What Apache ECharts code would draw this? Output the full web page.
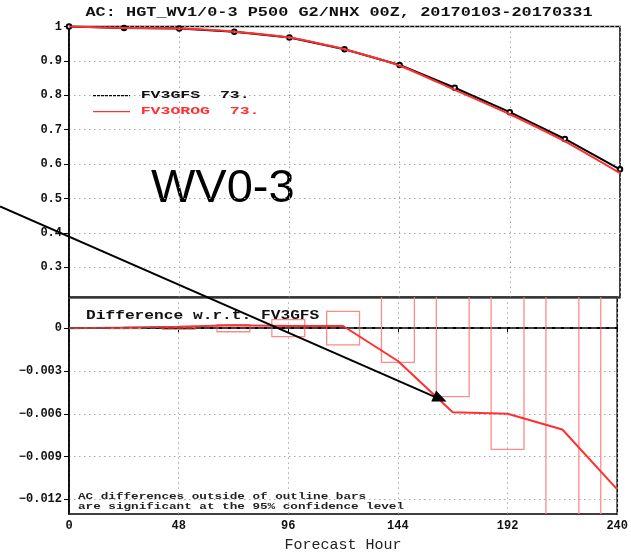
<!DOCTYPE html>
<html><head><meta charset="utf-8">
<script src="https://cdn.jsdelivr.net/npm/echarts@6/dist/echarts.min.js"></script>
<style>html,body{margin:0;padding:0;background:#fff}#c{width:631px;height:554px}</style>
</head><body><div id="c"></div><script>
// ---- data ----
const hours = [0, 24, 48, 72, 96, 120, 144, 168, 192, 216, 240];
const fv3gfs = [1.000, 0.996, 0.994, 0.985, 0.968, 0.934, 0.888, 0.822, 0.751, 0.673, 0.585];
const fv3orog = [1.000, 0.996, 0.994, 0.985, 0.968, 0.934, 0.886, 0.816, 0.745, 0.666, 0.574];
const diff = [0, 0.00004, 0.0001, 0.0002, 0.00015, 0.00015, -0.0023, -0.0059, -0.0060, -0.0071, -0.0113];
const sigHalf = [0, 0.00003, 0.00008, 0.00025, 0.0006, 0.00117, 0.0024, 0.0048, 0.0085, 0.016, 0.022];
const hourTicks = [0, 48, 96, 144, 192, 240];
const acTicks = [0.3, 0.4, 0.5, 0.6, 0.7, 0.8, 0.9, 1];
const diffTicks = [0, -0.003, -0.006, -0.009, -0.012];
const title = 'AC: HGT_WV1/0-3 P500 G2/NHX 00Z, 20170103-20170331';
const legendNames = ['FV3GFS', 'FV3OROG'];
const legendScores = ['73.', '73.'];

// ---- styles ----
const BAR_HALF_HOURS = 7.2;
const RED = '#ff3030';
const BAR_RED = '#ff8a8a';
const GRID_DOT = { color: '#a8a8a8', type: [1.5, 3.5], width: 1 };
const MONO = '"Liberation Mono", "DejaVu Sans Mono", monospace';

const chart = echarts.init(document.getElementById('c'), null, { renderer: 'canvas' });

const fmtDiff = v => v === 0 ? '0' : '\u2212' + Math.abs(v).toFixed(3);
const fmtAc = v => v === 1 ? '1' : v.toFixed(1);

const axisLabelStyle = { color: '#111', fontFamily: MONO, fontWeight: 'bold', fontSize: 12 };

chart.setOption({
  animation: false,
  backgroundColor: '#fff',
  grid: [
    { left: 69, right: 11, top: 26.5, height: 270.8, show: true, borderColor: '#000', borderWidth: 1.5, backgroundColor: 'transparent' },
    { left: 69, right: 11, top: 297.3, height: 217.7, show: true, borderColor: '#000', borderWidth: 1.5, backgroundColor: 'transparent' }
  ],
  xAxis: [
    { gridIndex: 0, type: 'value', min: 0, max: 240, interval: 48,
      axisLine: { show: true, lineStyle: { color: '#444', width: 1.5 } }, axisTick: { show: false }, axisLabel: { show: false },
      splitLine: { show: true, lineStyle: GRID_DOT } },
    { gridIndex: 1, type: 'value', min: 0, max: 240, interval: 48,
      axisLine: { show: true, lineStyle: { color: '#000', width: 2 } },
      axisTick: { show: true, length: 4, lineStyle: { color: '#000' } },
      axisLabel: { ...axisLabelStyle, margin: 6, customValues: hourTicks },
      splitLine: { show: true, lineStyle: GRID_DOT },
      name: 'Forecast Hour', nameLocation: 'middle', nameGap: 24,
      nameTextStyle: { fontFamily: MONO, fontSize: 15, color: '#222' } }
  ],
  yAxis: [
    { gridIndex: 0, type: 'value', min: 0.2128, max: 1.0,
      axisLine: { show: true, lineStyle: { color: '#000', width: 1.5 } },
      axisTick: { show: true, length: 5, customValues: acTicks, lineStyle: { color: '#000' } },
      axisLabel: { ...axisLabelStyle, margin: 7, customValues: acTicks, formatter: fmtAc },
      splitLine: { show: true, customValues: acTicks.filter(v => v < 1), lineStyle: GRID_DOT } },
    { gridIndex: 1, type: 'value', min: -0.013026, max: 0.002163,
      axisLine: { show: true, lineStyle: { color: '#000', width: 1.5 } },
      axisTick: { show: true, length: 5, customValues: diffTicks, lineStyle: { color: '#000' } },
      axisLabel: { ...axisLabelStyle, margin: 7, customValues: diffTicks, formatter: fmtDiff },
      splitLine: { show: true, customValues: diffTicks.filter(v => v !== 0), lineStyle: GRID_DOT } }
  ],
  series: [
    { name: legendNames[0], type: 'line', xAxisIndex: 0, yAxisIndex: 0, z: 3,
      data: hours.map((h, i) => [h, fv3gfs[i]]),
      symbol: 'emptyCircle', symbolSize: 4.5, showSymbol: true,
      itemStyle: { color: '#000', borderColor: '#000', borderWidth: 1.5 },
      lineStyle: { color: '#000', width: 2 } },
    { name: legendNames[1], type: 'line', xAxisIndex: 0, yAxisIndex: 0, z: 4,
      data: hours.map((h, i) => [h, fv3orog[i]]),
      symbol: 'none', smooth: 0.2,
      lineStyle: { color: RED, width: 2 } },
    { name: 'significance', type: 'custom', xAxisIndex: 1, yAxisIndex: 1, z: 2, clip: true,
      data: hours.map((h, i) => [h, sigHalf[i]]),
      renderItem: (params, api) => {
        const h = api.value(0), c = api.value(1);
        if (!c) return null;
        const p1 = api.coord([h - BAR_HALF_HOURS, c]);
        const p2 = api.coord([h + BAR_HALF_HOURS, -c]);
        return { type: 'rect',
          shape: { x: p1[0], y: p1[1], width: p2[0] - p1[0], height: p2[1] - p1[1] },
          style: { fill: 'none', stroke: BAR_RED, lineWidth: 1.3 } };
      },
      markLine: { silent: true, symbol: 'none', label: { show: false },
        lineStyle: { color: '#555', type: [6, 3], width: 1.5 },
        data: [{ yAxis: 0 }] } },
    { name: 'difference', type: 'line', xAxisIndex: 1, yAxisIndex: 1, z: 4,
      data: hours.map((h, i) => [h, diff[i]]),
      symbol: 'none', lineStyle: { color: RED, width: 2 } }
  ],
  graphic: [
    { type: 'text', x: 339, y: 13, scaleX: 1.3, z: 10,
      style: { text: title, font: 'bold 13px ' + MONO, fill: '#111', textAlign: 'center', textVerticalAlign: 'middle', verticalAlign: 'middle' } },
    { type: 'line', z: 10, shape: { x1: 93, y1: 95.7, x2: 130, y2: 95.7 }, style: { stroke: '#000', lineWidth: 1.2, lineDash: [3, 1] } },
    { type: 'line', z: 10, shape: { x1: 93, y1: 111.7, x2: 130, y2: 111.7 }, style: { stroke: RED, lineWidth: 1.2 } },
    { type: 'text', x: 140.7, y: 95, scaleX: 1.5, z: 10,
      style: { text: legendNames[0] + '  ' + legendScores[0], font: 'bold 11px ' + MONO, fill: '#111', textAlign: 'left', textVerticalAlign: 'middle', verticalAlign: 'middle' } },
    { type: 'text', x: 140.7, y: 111, scaleX: 1.5, z: 10,
      style: { text: legendNames[1] + '  ' + legendScores[1], font: 'bold 11px ' + MONO, fill: RED, textAlign: 'left', textVerticalAlign: 'middle', verticalAlign: 'middle' } },
    { type: 'text', x: 151, y: 189,
      style: { text: 'WV0-3', font: '47px "Liberation Sans", Arial, sans-serif', fill: '#000', textAlign: 'left', textVerticalAlign: 'middle', verticalAlign: 'middle' } },
    { type: 'text', x: 86, y: 316, scaleX: 1.35, z: 10,
      style: { text: 'Difference w.r.t. FV3GFS', font: 'bold 12px ' + MONO, fill: '#111', textAlign: 'left', textVerticalAlign: 'middle', verticalAlign: 'middle' } },
    { type: 'text', x: 78, y: 496.5, scaleX: 1.33, z: 10,
      style: { text: 'AC differences outside of outline bars', font: 'bold 9.5px ' + MONO, fill: '#222', textAlign: 'left', textVerticalAlign: 'middle', verticalAlign: 'middle' } },
    { type: 'text', x: 78, y: 507, scaleX: 1.33, z: 10,
      style: { text: 'are significant at the 95% confidence level', font: 'bold 9.5px ' + MONO, fill: '#222', textAlign: 'left', textVerticalAlign: 'middle', verticalAlign: 'middle' } },
    { type: 'line', z: 20, shape: { x1: 0, y1: 206.5, x2: 436, y2: 397.4 }, style: { stroke: '#000', lineWidth: 2 } },
    { type: 'polygon', z: 20, shape: { points: [[446.5, 401.5], [431.3, 401.4], [436.1, 390.4]] }, style: { fill: '#000' } }
  ]
});
</script></body></html>
